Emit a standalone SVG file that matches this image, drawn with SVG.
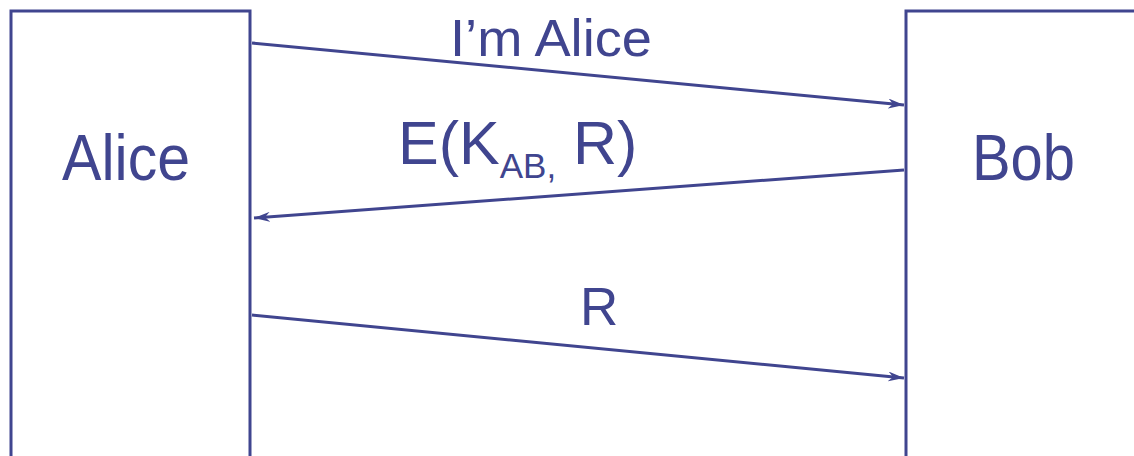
<svg xmlns="http://www.w3.org/2000/svg" width="1134" height="456" viewBox="0 0 1134 456">
<style>
.box{fill:none;stroke:#40458f;stroke-width:3}
.ln{stroke:#40458f;stroke-width:3;fill:none}
.t{font-family:"Liberation Sans",Arial,sans-serif;fill:#40458f}
</style>
<defs>
<marker id="ah" viewBox="0 0 16 10" refX="16" refY="5" markerWidth="16" markerHeight="10" markerUnits="userSpaceOnUse" orient="auto">
<path d="M0,0 L16,5 L0,10 L5,5 Z" fill="#40458f"/>
</marker>
</defs>
<rect width="1134" height="456" fill="#fff"/>
<g id="alice">
<path class="box" d="M11,460 V11 H250 V460"/>
<text class="t" x="62" y="180" font-size="64" textLength="128" lengthAdjust="spacingAndGlyphs">Alice</text>
</g>
<g id="bob">
<path class="box" d="M906,460 V11 H1140"/>
<text class="t" x="972" y="180" font-size="64" textLength="103" lengthAdjust="spacingAndGlyphs">Bob</text>
</g>
<g id="connectors">
<line class="ln" x1="252" y1="43" x2="904" y2="105" marker-end="url(#ah)"/>
<line class="ln" x1="904" y1="170" x2="254" y2="218" marker-end="url(#ah)"/>
<line class="ln" x1="252" y1="315" x2="904" y2="378" marker-end="url(#ah)"/>
</g>
<g id="labels">
<text class="t" x="450" y="56" font-size="52" textLength="202" lengthAdjust="spacingAndGlyphs">I’m Alice</text>
<text class="t" x="398" y="164" font-size="61">E(K<tspan font-size="35" dy="14">AB,</tspan><tspan dy="-14"> R)</tspan></text>
<text class="t" x="580" y="325" font-size="53">R</text>
</g>
</svg>
